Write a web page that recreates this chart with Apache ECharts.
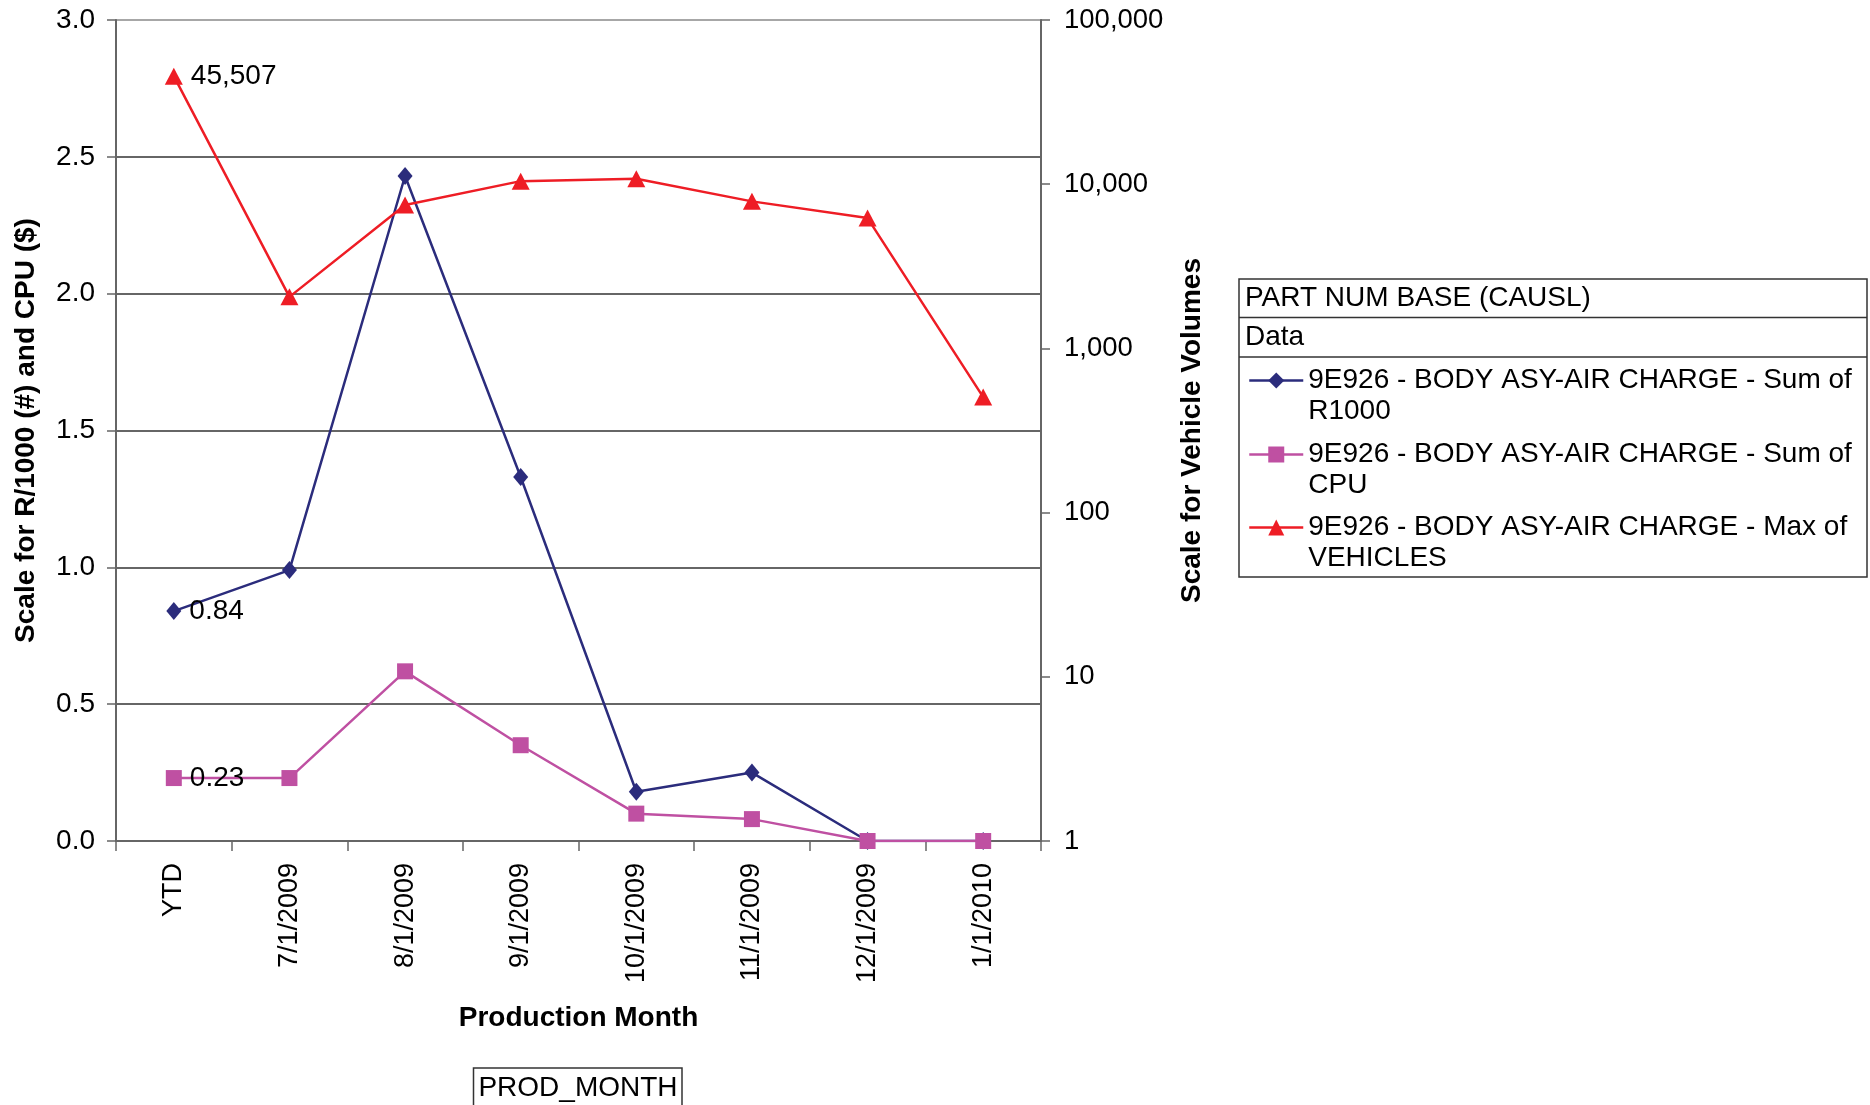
<!DOCTYPE html>
<html>
<head>
<meta charset="utf-8">
<script src="https://cdn.jsdelivr.net/npm/echarts@6/dist/echarts.min.js"></script>
<style>html,body{margin:0;padding:0;background:#fff;}#c{width:1870px;height:1105px;}</style>
</head>
<body>
<div id="c"></div>
<script>
const categories = ['YTD', '7/1/2009', '8/1/2009', '9/1/2009', '10/1/2009', '11/1/2009', '12/1/2009', '1/1/2010'];
const r1000 = [0.84, 0.99, 2.43, 1.33, 0.18, 0.25, 0, 0];
const cpu = [0.23, 0.23, 0.62, 0.35, 0.10, 0.08, 0, 0];
const vehicles = [45507, 2060, 7480, 10440, 10800, 7860, 6220, 505];
const seriesNames = [
  '9E926 - BODY ASY-AIR CHARGE - Sum of R1000',
  '9E926 - BODY ASY-AIR CHARGE - Sum of CPU',
  '9E926 - BODY ASY-AIR CHARGE - Max of VEHICLES'
];
const labelIndex = 0;

const FONT = 'Liberation Sans, Arial, Helvetica, sans-serif';
const NAVY = '#2B2C7C', PINK = '#BF50A2', RED = '#EE1D25';

function withLabel(arr, fmt) {
  return arr.map((v, i) => i === labelIndex
    ? { value: v, label: { show: true, position: 'right', distance: 8, formatter: fmt, color: '#000', fontSize: 28, fontFamily: FONT } }
    : v);
}

const chart = echarts.init(document.getElementById('c'));
const legendBase = {
  orient: 'vertical', left: 1248, padding: 0, itemWidth: 54, itemHeight: 20, itemGap: 0,
  selectedMode: false,
  lineStyle: { width: 2.5 },
  formatter: n => ' \n' + n.replace(/ of /, ' of\n'),
  textStyle: { fontSize: 28, fontFamily: FONT, color: '#000', lineHeight: 31 }
};
chart.setOption({
  animation: false,
  backgroundColor: '#fff',
  grid: { left: 116, right: 829, top: 20, bottom: 264 },
  legend: [
    Object.assign({}, legendBase, { top: 334, data: [seriesNames[0]] }),
    Object.assign({}, legendBase, { top: 408, data: [seriesNames[1]] }),
    Object.assign({}, legendBase, { top: 481, data: [seriesNames[2]] })
  ],
  xAxis: {
    type: 'category', data: categories, boundaryGap: true,
    name: 'Production Month', nameLocation: 'middle', nameGap: 163,
    nameTextStyle: { fontSize: 28, fontWeight: 'bold', fontFamily: FONT, color: '#000' },
    axisLine: { lineStyle: { color: '#666', width: 2 } },
    axisTick: { show: true, alignWithLabel: false, length: 10, lineStyle: { color: '#666', width: 1.5 } },
    axisLabel: { rotate: 90, margin: 22, fontSize: 27, fontFamily: FONT, color: '#000', interval: 0 },
    splitLine: { show: false }
  },
  yAxis: [
    {
      type: 'value', min: 0, max: 3, interval: 0.5, position: 'left',
      name: 'Scale for R/1000 (#) and CPU ($)', nameLocation: 'middle', nameGap: 76, nameRotate: 90,
      nameTextStyle: { fontSize: 28, fontWeight: 'bold', fontFamily: FONT, color: '#000' },
      axisLine: { show: true, lineStyle: { color: '#666', width: 2 } },
      axisTick: { show: true, length: 9, lineStyle: { color: '#666', width: 1.5 } },
      axisLabel: { margin: 21, fontSize: 28, fontFamily: FONT, color: '#000', formatter: v => v.toFixed(1) },
      splitLine: { show: true, lineStyle: { color: ['#333', '#333', '#333', '#333', '#333', '#333', '#8a8a8a'], width: 1.5 } }
    },
    {
      type: 'log', logBase: 10, min: 1, max: 100000, position: 'right',
      name: 'Scale for Vehicle Volumes', nameLocation: 'middle', nameGap: 137, nameRotate: 90,
      nameTextStyle: { fontSize: 28, fontWeight: 'bold', fontFamily: FONT, color: '#000' },
      axisLine: { show: true, lineStyle: { color: '#666', width: 2 } },
      axisTick: { show: true, length: 9, lineStyle: { color: '#666', width: 1.5 } },
      axisLabel: { margin: 23, fontSize: 27.5, fontFamily: FONT, color: '#000', formatter: v => Math.round(v).toLocaleString('en-US') },
      splitLine: { show: false }
    }
  ],
  series: [
    {
      name: seriesNames[0], type: 'line', yAxisIndex: 0,
      data: withLabel(r1000, p => p.value.toFixed(2)),
      symbol: 'diamond', symbolSize: [15, 18],
      lineStyle: { color: NAVY, width: 2.5 }, itemStyle: { color: NAVY }
    },
    {
      name: seriesNames[1], type: 'line', yAxisIndex: 0,
      data: withLabel(cpu, p => p.value.toFixed(2)),
      symbol: 'rect', symbolSize: 16,
      lineStyle: { color: PINK, width: 2.5 }, itemStyle: { color: PINK }
    },
    {
      name: seriesNames[2], type: 'line', yAxisIndex: 1,
      data: withLabel(vehicles, p => p.value.toLocaleString('en-US')),
      symbol: 'triangle', symbolSize: [18, 17],
      lineStyle: { color: RED, width: 2.5 }, itemStyle: { color: RED }
    }
  ],
  graphic: [
    { type: 'rect', shape: { x: 1239, y: 279, width: 628, height: 298 }, style: { fill: 'none', stroke: '#333', lineWidth: 1.5 } },
    { type: 'line', shape: { x1: 1239, y1: 317.5, x2: 1867, y2: 317.5 }, style: { stroke: '#333', lineWidth: 1.5 } },
    { type: 'line', shape: { x1: 1239, y1: 357, x2: 1867, y2: 357 }, style: { stroke: '#333', lineWidth: 1.5 } },
    { type: 'text', x: 1245, y: 298, style: { text: 'PART NUM BASE (CAUSL)', font: '28px ' + FONT, fill: '#000', verticalAlign: 'middle' } },
    { type: 'text', x: 1245, y: 337, style: { text: 'Data', font: '28px ' + FONT, fill: '#000', verticalAlign: 'middle' } },
    { type: 'rect', shape: { x: 473.5, y: 1068, width: 208.5, height: 60 }, style: { fill: 'none', stroke: '#333', lineWidth: 1.5 } },
    { type: 'text', x: 578, y: 1088, style: { text: 'PROD_MONTH', font: '28px ' + FONT, fill: '#000', align: 'center', verticalAlign: 'middle' } }
  ]
});
</script>
</body>
</html>
